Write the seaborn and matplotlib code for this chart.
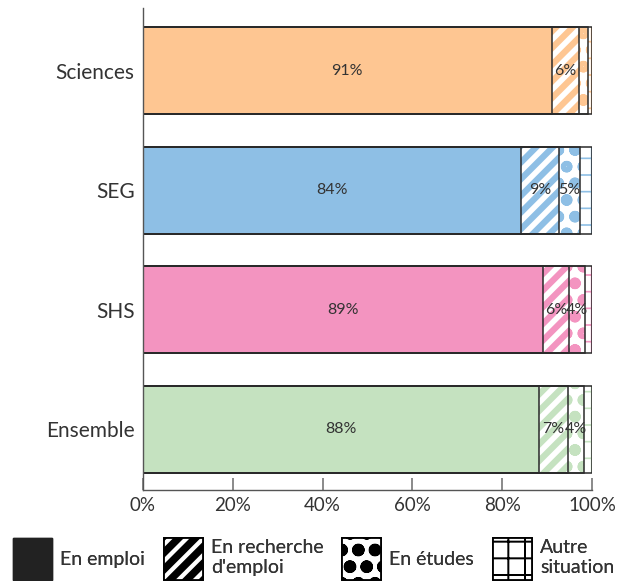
import numpy as np
import pandas as pd
import matplotlib
matplotlib.use('Agg')
import matplotlib.pyplot as plt
from matplotlib.patches import Patch
from matplotlib.ticker import PercentFormatter
import seaborn as sns

categories = ['Sciences', 'SEG', 'SHS', 'Ensemble']
en_emploi = [91.0, 84.1, 89.2, 88.1]
en_recherche = [6.1, 8.6, 5.6, 6.6]
en_etudes = [2.0, 4.6, 3.6, 3.6]
autre = [0.9, 2.7, 1.6, 1.7]

status_labels = ['En emploi', "En recherche\nd'emploi", 'En études', 'Autre\nsituation']
bar_colors = ['#fec692', '#8ebfe5', '#f394c0', '#c5e2c0']
hatches = [None, '//', 'o', '+']
hatch_lw = [1.0, 4.5, 3.6, 1.2]

TEXT_COLOR = '#333333'
EDGE_COLOR = '#2a2a2a'

sns.set_style('white')
plt.rcParams['font.family'] = ['Lato', 'DejaVu Sans']

fig = plt.figure(figsize=(6.2, 5.81), dpi=100)
ax = fig.add_axes([0.2306, 0.1566, 0.7242, 0.8294])

values = np.array([en_emploi, en_recherche, en_etudes, autre])
cum = np.cumsum(values, axis=0)
bar_width = 0.728

# Hatched layers drawn from the longest cumulative bar down to the first
for k in reversed(range(len(values))):
    df = pd.DataFrame({'cat': categories, 'val': cum[k]})
    n_before = len(ax.patches)
    with plt.rc_context({'hatch.linewidth': hatch_lw[k]}):
        sns.barplot(data=df, x='val', y='cat', hue='cat', palette=bar_colors,
                    width=bar_width, saturation=1, legend=False, ax=ax, linewidth=0)
    for p, c in zip(ax.patches[n_before:], bar_colors):
        if hatches[k] is None:
            p.set_facecolor(c)
            p.set_edgecolor(c)
        else:
            p.set_facecolor('white')
            p.set_edgecolor(c)
            p.set_hatch(hatches[k])
            try:
                p.set_hatch_linewidth(hatch_lw[k])
            except AttributeError:
                pass
        p.set_linewidth(0)

# Outline pass so segment borders are dark
for k in range(len(values)):
    df = pd.DataFrame({'cat': categories, 'val': cum[k]})
    n_before = len(ax.patches)
    sns.barplot(data=df, x='val', y='cat', color='white', width=bar_width,
                saturation=1, ax=ax)
    for p in ax.patches[n_before:]:
        p.set_facecolor('none')
        p.set_edgecolor(EDGE_COLOR)
        p.set_linewidth(1.1)
        p.set_hatch(None)

# Percentage labels in segments large enough
for i in range(len(categories)):
    for k in range(len(values)):
        v = values[k][i]
        if v >= 3.5:
            ax.text(cum[k][i] - v / 2, i, '%d%%' % round(v), ha='center', va='center',
                    fontsize=11.5, color=TEXT_COLOR)

ax.set_xlim(0, 100)
ax.set_ylim(3.51, -0.523)
ax.set_xticks(range(0, 101, 20))
ax.xaxis.set_major_formatter(PercentFormatter(decimals=0))
ax.set_xlabel('')
ax.set_ylabel('')
ax.tick_params(axis='x', direction='in', length=9, width=1.2, color='#777777',
               labelsize=13.5, labelcolor=TEXT_COLOR, pad=5, bottom=True)
ax.tick_params(axis='y', length=0, labelsize=15, labelcolor=TEXT_COLOR, pad=6)
sns.despine(ax=ax)
for s in ['left', 'bottom']:
    ax.spines[s].set_color('#555555')
    ax.spines[s].set_linewidth(1.0)

# Legend, one entry at a time to match spacing
legend_x = [13, 164, 342, 493]
for k in range(len(values)):
    with plt.rc_context({'hatch.linewidth': hatch_lw[k] * 1.2}):
        if k == 0:
            h = Patch(facecolor='#222222', edgecolor='#222222')
        else:
            h = Patch(facecolor='white', edgecolor='black', hatch=hatches[k], linewidth=1.3)
        leg = fig.legend([h], [status_labels[k]], loc='lower left',
                         bbox_to_anchor=(legend_x[k] / 620, 1 / 581), frameon=False,
                         fontsize=14, handlelength=2.0, handleheight=2.95,
                         handletextpad=0.42, borderpad=0, borderaxespad=0,
                         labelspacing=0, labelcolor=TEXT_COLOR)
    fig.add_artist(leg)

fig.savefig('out.png', dpi=100)
